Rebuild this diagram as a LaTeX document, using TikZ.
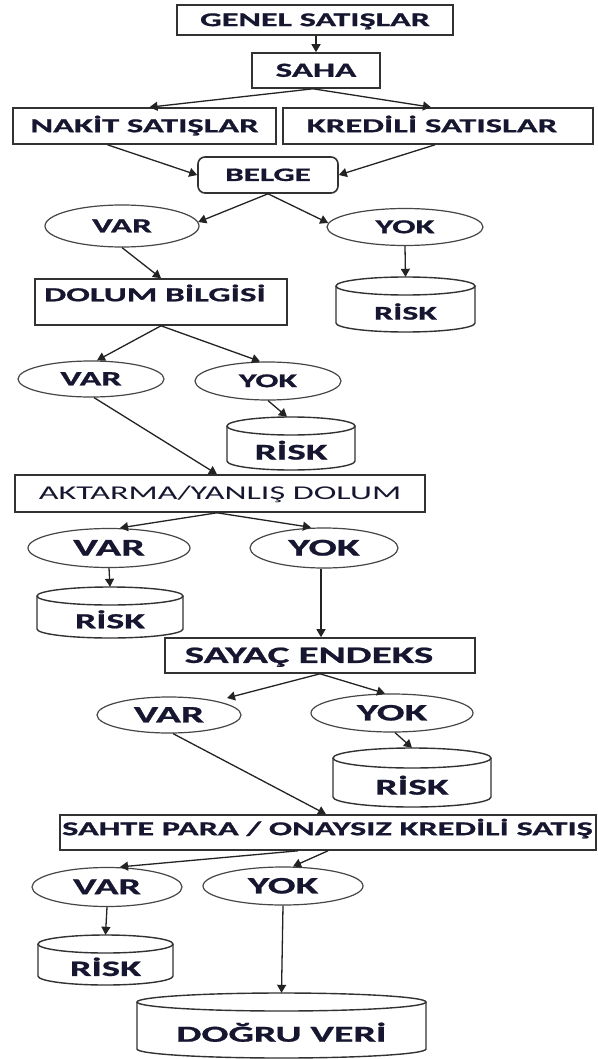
\documentclass[tikz,border=0pt]{standalone}
\usepackage{fontspec}
\newfontfamily\lblfont[FakeStretch=1.75, BoldFeatures={FakeBold=0.9}]{Carlito}
\usetikzlibrary{shapes.geometric,arrows.meta,calc}

\definecolor{ink}{RGB}{22,22,48}
\definecolor{edge}{RGB}{50,50,50}
\definecolor{oval}{RGB}{70,70,70}
\definecolor{wire}{RGB}{35,35,35}

\tikzset{
  txt/.style={/utils/exec={\pgfmathsetmacro\capht{0.63*#1}},
    font=\lblfont\bfseries\fontsize{#1}{#1}\selectfont, text=ink,
    text height=\capht pt, text depth=0pt},
  txtreg/.style={/utils/exec={\pgfmathsetmacro\capht{0.63*#1}},
    font=\lblfont\fontsize{#1}{#1}\selectfont, text=ink,
    text height=\capht pt, text depth=0pt},
  boxnode/.style={rectangle, draw=edge, line width=1.6pt, inner sep=0pt, fill=white},
  ovalnode/.style={ellipse, draw=oval, line width=1.2pt, inner sep=0pt},
  cylframe/.style={rectangle, inner sep=0pt},
  cylline/.style={draw=edge, line width=1.4pt},
  flow/.style={draw=wire, line width=1.3pt, -{Triangle[length=8pt,width=9pt]}},
}

% rectangle box: name, left, top, right, bottom, options, text
\newcommand\boxat[7]{%
  \node[boxnode, #6, minimum width={#4-#2}, minimum height={#5-#3}]
    (#1) at ({(#2+#4)/2},{-(#3+#5)/2}) {#7};}
% ellipse: name, cx, cy, rx, ry, size, text
\newcommand\ovalat[7]{%
  \node[ovalnode, txt=#6, minimum width={2*#4}, minimum height={2*#5}]
    (#1) at (#2,-#3) {#7};}
% drum (database cylinder): name, left, top, right, bottom, ry, size, text
\newcommand\drumat[8]{%
  \node[cylframe, minimum width={#4-#2}, minimum height={#5-#3}]
    (#1) at ({(#2+#4)/2},{-(#3+#5)/2}) {};
  \draw[cylline] ({(#2+#4)/2},{-#3-#6}) ellipse [x radius={(#4-#2)/2}, y radius=#6];
  \draw[cylline] (#2,{-#3-#6}) -- (#2,{-#5+#6})
    arc[start angle=180, end angle=360, x radius={(#4-#2)/2}, y radius=#6]
    -- (#4,{-#3-#6});
  \node[txt=#7, inner sep=0pt] (#1text) at ({(#2+#4)/2},{-(#3+2*#6+#5)/2}) {#8};}

\begin{document}
\begin{tikzpicture}[x=1pt, y=1pt]
\fill[white] (0,0) rectangle (597,-1059);
\useasboundingbox (0,0) rectangle (597,-1059);

% --- top part
\boxat{genel}{177}{5}{453}{35}{txt=19.5}{GENEL SATIŞLAR}
\boxat{saha}{252}{53}{380}{88}{txt=20}{SAHA}
\boxat{nakit}{13}{108}{276}{144}{txt=19.7}{NAKİT SATIŞLAR}
\boxat{kredili}{283}{108}{593}{144}{txt=19.8}{KREDİLİ SATISLAR\hspace*{12pt}}
\boxat{belge}{198}{157}{338}{193}{txt=19, rounded corners=7pt}{BELGE}

\ovalat{var1}{122}{226}{77}{21}{20}{VAR}
\ovalat{yok1}{405}{227}{78}{18.5}{19.8}{YOK}
\drumat{risk1}{336}{277}{475}{332}{9}{19.4}{RİSK}

% --- filling information
\boxat{dolum}{35}{279}{287}{325}{txt=20}{\raisebox{7pt}{DOLUM BİLGİSİ}\hspace*{12pt}}
\ovalat{var2}{91}{379}{73}{18}{20.5}{VAR}
\ovalat{yok2}{268}{381}{73}{19}{19.5}{YOK}
\drumat{risk2}{227}{417}{355}{470}{9}{22.5}{RİSK}

% --- transfer / wrong filling
\boxat{aktarma}{15}{475}{425}{512}{txtreg=19.5}{AKTARMA/YANLIŞ DOLUM}
\ovalat{var3}{109}{548}{81}{19.5}{24}{VAR}
\ovalat{yok3}{324}{548}{74}{20}{24}{YOK}
\drumat{risk3}{37}{587}{183}{638}{9}{21.6}{RİSK}

% --- meter index
\boxat{sayac}{165}{638}{475}{673}{txt=23.5}{SAYAÇ ENDEKS\hspace*{22pt}}
\ovalat{var4}{169}{715}{72}{18}{23.5}{VAR}
\ovalat{yok4}{392}{713}{81}{19}{23.5}{YOK}
\drumat{risk4}{333}{748}{491}{807}{10}{22.6}{RİSK}

% --- counterfeit money / unapproved credit sale (text fills the whole frame)
\boxat{sahte}{60}{815}{596}{850}{}{}
\node[txt=19.6, anchor=west, inner sep=0pt] (sahtetext) at (62,-829)
  {SAHTE PARA / ONAYSIZ KREDİLİ SATIŞ};
\ovalat{var5}{107}{887}{75}{19.5}{22.7}{VAR}
\ovalat{yok5}{283}{886}{80}{19}{23.5}{YOK}
\drumat{risk5}{38}{935}{173}{985}{9}{22}{RİSK}
\drumat{dogru}{137}{993}{426}{1058}{9}{22.8}{DOĞRU VERİ}

% --- connectors
\draw[flow] (saha.north |- genel.south) -- (saha.north);
\draw[flow] ([xshift=-3pt]saha.south) -- ([xshift=5pt]nakit.north);
\draw[flow] ([xshift=-3pt]saha.south) -- ([xshift=-7pt]kredili.north);
\draw[flow] ([xshift=-37pt]nakit.south) -- (belge.west);
\draw[flow] ([xshift=-3pt]kredili.south) -- (belge.east);
\draw[flow] (belge.south) -- (var1.3);
\draw[flow] (belge.south) -- (yok1.177);
\draw[flow] (yok1.south) -- (risk1.north);
\draw[flow] (var1.south) -- (dolum.north);
\draw[flow] (dolum.south) -- ([xshift=6pt]var2.north);
\draw[flow] (dolum.south) -- ([xshift=-8pt]yok2.north);
\draw[flow] (yok2.south) -- ([xshift=-4pt]risk2.north);
\draw[flow] ([xshift=3pt]var2.south) -- ([xshift=-3pt]aktarma.north);
\draw[flow] ([xshift=-3pt]aktarma.south) -- ([xshift=11pt]var3.north);
\draw[flow] ([xshift=-3pt]aktarma.south) -- ([xshift=-13pt]yok3.north);
\draw[flow] (var3.south) -- (risk3.north);
\draw[flow] ([xshift=-3pt]yok3.south) -- ([xshift=-3pt]yok3.south |- sayac.north);
\draw[flow] (sayac.south) -- ($(var4.center)+(58,17)$);
\draw[flow] (sayac.south) -- ([xshift=-7pt]yok4.north);
\draw[flow] ([xshift=3pt]yok4.south) -- (risk4.north);
\draw[flow] ([xshift=4pt]var4.south) -- ([xshift=-2pt]sahte.north);
\draw[flow] ([xshift=-30pt]sahte.south) -- ([xshift=13pt]var5.north);
\draw[flow] (sahte.south) -- ([xshift=10pt]yok5.north);
\draw[flow] (var5.south) -- (risk5.north);
\draw[flow] (yok5.south) -- (dogru.north);
\end{tikzpicture}
\end{document}
